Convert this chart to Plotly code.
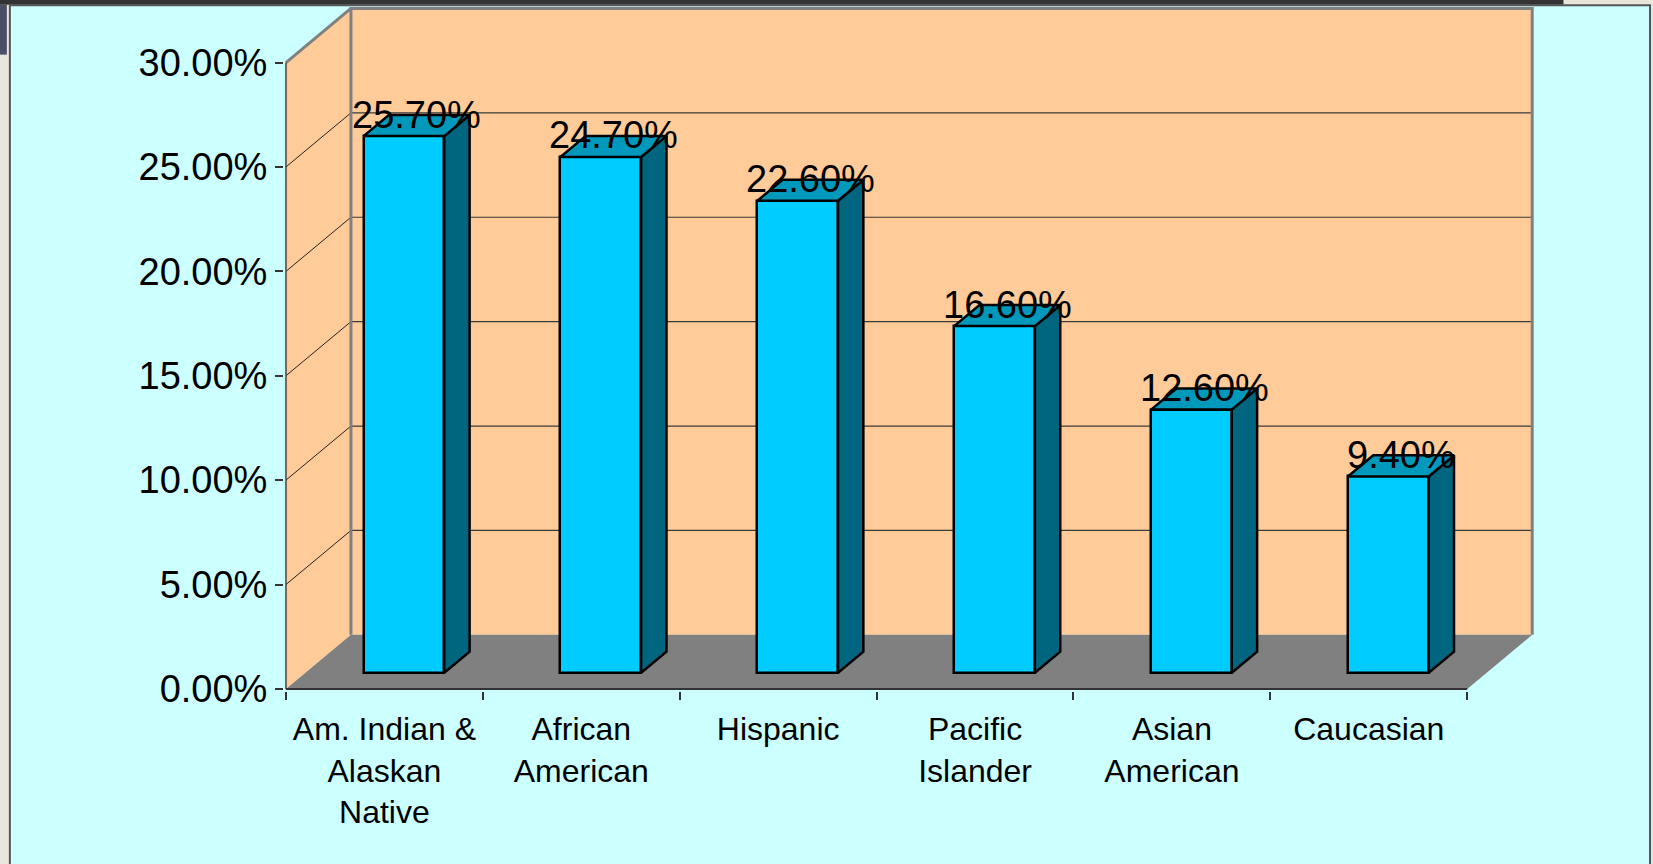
import plotly.graph_objects as go

# ---------------- data ----------------
categories = ["Am. Indian &<br>Alaskan<br>Native", "African<br>American", "Hispanic",
              "Pacific<br>Islander", "Asian<br>American", "Caucasian"]
values = [25.7, 24.7, 22.6, 16.6, 12.6, 9.4]
y_ticks = [0, 5, 10, 15, 20, 25, 30]
y_tick_labels = ["0.00%", "5.00%", "10.00%", "15.00%", "20.00%", "25.00%", "30.00%"]
data_labels = ["25.70%", "24.70%", "22.60%", "16.60%", "12.60%", "9.40%"]

# ---------------- layout constants ----------------
W, H = 1653, 864
ORIGIN_X, ORIGIN_Y = 286.0, 689.3      # pixel position of (x=0, y=0) on the front plane
PX_X, PX_Y = 196.8, 20.88              # pixels per category / per percent
DX, DY = 0.33, 2.59                    # 3D depth offset in data units
BAR_W = 0.41
F_FRONT, F_BACK = 0.30, 0.69
X_MIN, X_MAX = -0.01, 6.40
Y_MIN, Y_MAX = -0.1, 32.9

FONT = "Arial, 'Liberation Sans', sans-serif"
CYAN = "#CCFFFF"
PEACH = "#FFCC99"
FLOOR = "#808080"
FRONT_C = "#00CCFF"
SIDE_C = "#006680"
TOP_C = "#0099BB"
BEIGE = "#E9E7DD"

n = len(values)
ymax = y_ticks[-1]

m_l = ORIGIN_X + X_MIN * PX_X
m_r = W - (ORIGIN_X + X_MAX * PX_X)
m_t = ORIGIN_Y - Y_MAX * PX_Y
m_b = H - (ORIGIN_Y - Y_MIN * PX_Y)
PW = W - m_l - m_r
PH = H - m_t - m_b


def px_x(p):
    return (p - m_l) / PW


def px_y(p):
    return (H - p - m_b) / PH


fig = go.Figure()

# front faces
centers = [i + 0.5 for i in range(n)]
fig.add_trace(go.Bar(
    x=centers, y=values, base=F_FRONT * DY, width=BAR_W,
    offset=-BAR_W / 2 + F_FRONT * DX,
    marker=dict(color=FRONT_C, line=dict(color="black", width=2.5)),
    hoverinfo="skip", showlegend=False))

# side and top faces computed from values
sx, sy, tx, ty = [], [], [], []
for c, v in zip(centers, values):
    xl, xr = c - BAR_W / 2, c + BAR_W / 2
    sx += [xr + F_FRONT * DX, xr + F_BACK * DX, xr + F_BACK * DX, xr + F_FRONT * DX, xr + F_FRONT * DX, None]
    sy += [F_FRONT * DY, F_BACK * DY, v + F_BACK * DY, v + F_FRONT * DY, F_FRONT * DY, None]
    tx += [xl + F_FRONT * DX, xr + F_FRONT * DX, xr + F_BACK * DX, xl + F_BACK * DX, xl + F_FRONT * DX, None]
    ty += [v + F_FRONT * DY, v + F_FRONT * DY, v + F_BACK * DY, v + F_BACK * DY, v + F_FRONT * DY, None]

fig.add_trace(go.Scatter(x=sx, y=sy, mode="lines", fill="toself", fillcolor=SIDE_C,
                         line=dict(color="black", width=2.5), hoverinfo="skip", showlegend=False))
fig.add_trace(go.Scatter(x=tx, y=ty, mode="lines", fill="toself", fillcolor=TOP_C,
                         line=dict(color="black", width=2.5), hoverinfo="skip", showlegend=False))

# data labels
mid = 0.5 * (F_FRONT + F_BACK)
for c, v, t in zip(centers, values, data_labels):
    fig.add_annotation(x=c + mid * DX, y=v + mid * DY, text=t, showarrow=False,
                       xanchor="center", yanchor="bottom", yshift=-12,
                       font=dict(family=FONT, size=38, color="black"))

shapes = []
# slide frame (paper)
shapes.append(dict(type="rect", xref="paper", yref="paper", x0=px_x(0), x1=px_x(W), y0=px_y(H), y1=px_y(0),
                   fillcolor=BEIGE, line=dict(width=0), layer="below"))
shapes.append(dict(type="rect", xref="paper", yref="paper", x0=px_x(0), x1=px_x(1563), y0=px_y(5), y1=px_y(0),
                   fillcolor="#333333", line=dict(width=0), layer="below"))
shapes.append(dict(type="rect", xref="paper", yref="paper", x0=px_x(0), x1=px_x(7), y0=px_y(55), y1=px_y(5),
                   fillcolor="#4A4E66", line=dict(width=0), layer="below"))
shapes.append(dict(type="rect", xref="paper", yref="paper", x0=px_x(10), x1=px_x(1649.5), y0=px_y(H + 10),
                   y1=px_y(5.5), fillcolor=CYAN, line=dict(color="#555555", width=2), layer="below"))

# walls
wall = (f"M 0,0 L {DX},{DY} L {n + DX},{DY} L {n + DX},{ymax + DY} "
        f"L {DX},{ymax + DY} L 0,{ymax} Z")
shapes.append(dict(type="path", xref="x", yref="y", path=wall, fillcolor=PEACH,
                   line=dict(width=0), layer="below"))
floor = f"M 0,0 L {n},0 L {n + DX},{DY} L {DX},{DY} Z"
shapes.append(dict(type="path", xref="x", yref="y", path=floor, fillcolor=FLOOR,
                   line=dict(width=0), layer="below"))
# gridlines
for t in y_ticks[1:-1]:
    shapes.append(dict(type="line", xref="x", yref="y", x0=DX, x1=n + DX, y0=t + DY, y1=t + DY,
                       line=dict(color="#3A3A3A", width=1.2), layer="below"))
    shapes.append(dict(type="line", xref="x", yref="y", x0=0, x1=DX, y0=t, y1=t + DY,
                       line=dict(color="#222222", width=1), layer="below"))
# wall borders
border = f"M {DX},{DY} L {DX},{ymax + DY} L {n + DX},{ymax + DY} L {n + DX},{DY}"
shapes.append(dict(type="path", xref="x", yref="y", path=border,
                   line=dict(color="#808080", width=3), layer="below"))
shapes.append(dict(type="line", xref="x", yref="y", x0=0, x1=DX, y0=ymax, y1=ymax + DY,
                   line=dict(color="#808080", width=3), layer="below"))
# axis lines
shapes.append(dict(type="line", xref="x", yref="y", x0=0, x1=0, y0=0, y1=ymax,
                   line=dict(color="#444444", width=1.5), layer="below"))
shapes.append(dict(type="line", xref="x", yref="y", x0=0, x1=n, y0=0, y1=0,
                   line=dict(color="#333333", width=2), layer="below"))

fig.update_layout(
    width=W, height=H,
    margin=dict(l=m_l, r=m_r, t=m_t, b=m_b, pad=0),
    paper_bgcolor=BEIGE, plot_bgcolor="rgba(0,0,0,0)",
    shapes=shapes, showlegend=False, bargap=0,
    xaxis=dict(range=[X_MIN, X_MAX], showgrid=False, zeroline=False, showline=False,
               tickmode="array", tickvals=centers, ticktext=categories, ticks="",
               ticklabelstandoff=16,
               tickfont=dict(family=FONT, size=32, color="black"),
               minor=dict(tickmode="array", tickvals=list(range(n + 1)), ticks="outside",
                          ticklen=8, tickwidth=1.5, tickcolor="#333333", showgrid=False),
               fixedrange=True),
    yaxis=dict(range=[Y_MIN, Y_MAX], showgrid=False, zeroline=False, showline=False,
               tickmode="array", tickvals=y_ticks, ticktext=y_tick_labels,
               ticks="outside", ticklen=8, tickwidth=1.5, tickcolor="#333333",
               ticklabelstandoff=0,
               tickfont=dict(family=FONT, size=38, color="black"), fixedrange=True),
)

fig.write_html("out.html", config={"displayModeBar": False},
               post_script="document.body.style.margin='0px';")
